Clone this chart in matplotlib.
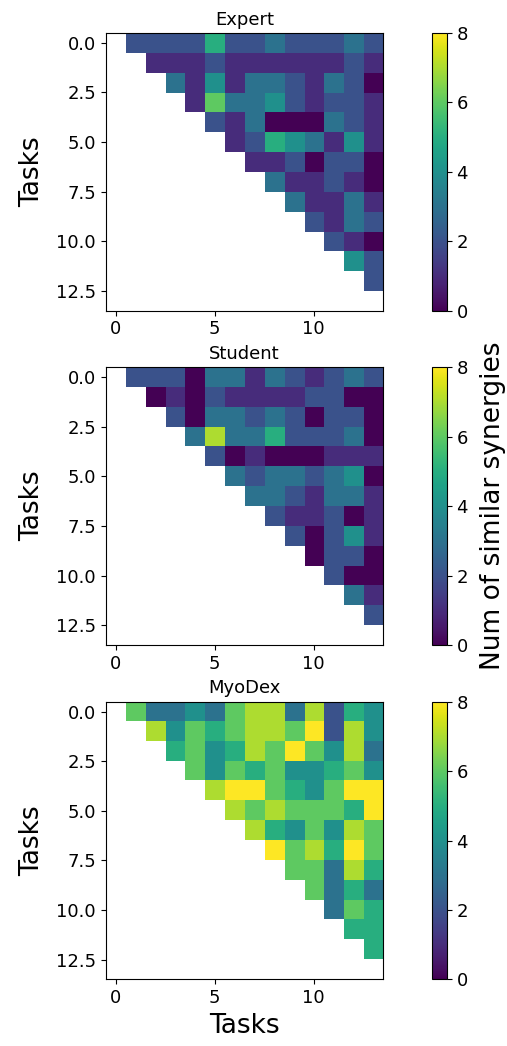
import numpy as np
import matplotlib
matplotlib.use("Agg")
import matplotlib.pyplot as plt

# upper triangle values, row r holds columns r+1 .. 13
expert_rows = [
    [2, 2, 2, 2, 5, 2, 2, 3, 2, 2, 2, 3, 2],
    [1, 1, 1, 2, 1, 1, 1, 1, 1, 1, 2, 1],
    [3, 1, 4, 1, 3, 3, 2, 1, 3, 2, 0],
    [1, 6, 3, 3, 4, 2, 1, 2, 2, 1],
    [2, 1, 3, 0, 0, 0, 3, 2, 1],
    [1, 2, 5, 4, 3, 1, 4, 1],
    [1, 1, 2, 0, 2, 2, 0],
    [3, 1, 1, 2, 1, 0],
    [3, 1, 1, 3, 1],
    [2, 1, 3, 2],
    [2, 1, 0],
    [4, 2],
    [2],
]
student_rows = [
    [2, 2, 2, 0, 3, 3, 1, 3, 2, 1, 2, 3, 2],
    [0, 1, 0, 2, 1, 1, 1, 1, 2, 2, 0, 0],
    [2, 0, 3, 3, 2, 3, 2, 0, 2, 2, 0],
    [3, 7, 3, 3, 5, 2, 2, 2, 3, 0],
    [2, 0, 1, 0, 0, 0, 1, 1, 1],
    [3, 2, 3, 3, 2, 3, 4, 0],
    [3, 3, 2, 1, 3, 3, 1],
    [2, 1, 1, 2, 0, 1],
    [2, 0, 2, 4, 1],
    [0, 2, 2, 0],
    [2, 0, 0],
    [3, 1],
    [2],
]
myodex_rows = [
    [6, 3, 3, 4, 3, 6, 7, 7, 3, 7, 2, 5, 4],
    [7, 4, 6, 5, 6, 7, 7, 6, 8, 2, 7, 4],
    [5, 6, 4, 5, 7, 6, 8, 6, 4, 7, 3],
    [6, 4, 6, 5, 6, 4, 4, 5, 6, 4],
    [7, 8, 8, 6, 5, 4, 6, 8, 8],
    [7, 6, 7, 6, 6, 6, 5, 8],
    [7, 5, 4, 6, 4, 7, 6],
    [8, 6, 7, 5, 8, 6],
    [6, 6, 3, 7, 5],
    [6, 3, 5, 3],
    [3, 6, 5],
    [5, 5],
    [5],
]
titles = ["Expert", "Student", "MyoDex"]
n_tasks = 14


def to_matrix(rows):
    m = np.full((n_tasks, n_tasks), np.nan)
    for r, vals in enumerate(rows):
        m[r, r + 1:] = vals
    return m


fig = plt.figure(figsize=(5.07, 10.46), dpi=100)

ax_left, ax_w = 0.2087, 0.5464
ax_h = 0.2655
bottoms = [0.703, 0.3834, 0.0636]
cb_left, cb_w = 0.8527, 0.0284

for i, rows in enumerate([expert_rows, student_rows, myodex_rows]):
    ax = fig.add_axes([ax_left, bottoms[i], ax_w, ax_h])
    im = ax.imshow(to_matrix(rows), cmap="viridis", vmin=0, vmax=8, aspect="auto")
    ax.set_title(titles[i], fontsize=13)
    ax.set_ylabel("Tasks", fontsize=19, labelpad=8)
    ax.tick_params(labelsize=13)
    ax.set_xticks([0, 5, 10])
    ax.set_yticks([0, 2.5, 5, 7.5, 10, 12.5])
    ax.set_yticklabels(["0.0", "2.5", "5.0", "7.5", "10.0", "12.5"])
    if i == 2:
        ax.set_xlabel("Tasks", fontsize=19)
    cax = fig.add_axes([cb_left, bottoms[i], cb_w, ax_h])
    cb = fig.colorbar(im, cax=cax)
    cb.set_ticks([0, 2, 4, 6, 8])
    cb.ax.tick_params(labelsize=13)
    if i == 1:
        cb.set_label("Num of similar synergies", fontsize=19, labelpad=9)

fig.savefig("out.png", dpi=100)
